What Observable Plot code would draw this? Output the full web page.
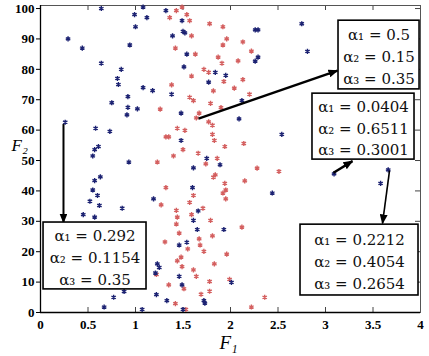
<!DOCTYPE html>
<html><head><meta charset="utf-8">
<script src="https://cdn.jsdelivr.net/npm/d3@7"></script>
<script src="https://cdn.jsdelivr.net/npm/@observablehq/plot@0.6"></script>
<style>body{margin:0;background:#fff;}</style>
</head><body><div id="chart"></div>
<script>
// ---- data ----
const blueX = [0.64,0.99,1.08,1.12,1.00,0.29,0.44,0.94,0.64,0.85,0.81,0.82,1.08,1.18,0.92,0.75,0.92,1.02,0.91,0.26,0.58,0.73,0.61,0.57,0.55,
  0.93,1.61,0.63,0.57,0.55,0.60,0.52,0.62,0.86,0.45,0.57,1.19,1.23,1.25,1.21,0.88,0.77,1.22,0.67,1.07,
  1.32,1.49,2.29,2.26,1.52,1.50,1.39,1.54,2.29,2.26,1.51,1.84,1.95,1.77,1.38,2.12,1.48,2.09,1.48,1.75,
  1.89,2.44,1.60,1.66,1.61,1.65,1.93,1.54,1.46,1.46,2.01,1.49,1.33,1.72,1.73,1.50,
  2.75,2.81,2.54,3.09,3.66,3.58];
const blueY = [100,98,100.5,97,94,90,87,88,82,80,77,75,74,73,71,69,67.5,67,65,62.6,60.6,59.6,54.6,53.6,51.5,
  49.5,47.6,44.6,43.4,40.3,38.5,36.6,35.2,34.3,32.2,31.4,37.4,16.0,14.8,13.0,6.9,5.0,5.9,1.8,1.0,
  99.3,96,93,93,92,92.5,91,85,84,82.7,80.8,79,78,75.8,71.8,69.7,65.6,63.7,56.6,50.7,
  48.6,39.3,41.1,33.4,30.3,27.3,27.3,23.1,22.2,11.9,9.9,9.1,3.9,3.9,3.1,1.0,
  95,85.9,58.6,45.6,46.9,42.5];
const redX = [1.36,1.43,1.49,1.54,1.57,1.78,1.92,1.59,1.96,1.92,2.13,1.42,1.63,2.22,1.87,2.08,1.91,1.72,1.77,1.59,1.93,2.13,1.38,1.82,2.04,2.20,1.57,1.61,1.79,1.26,1.90,1.67,1.64,1.77,1.81,1.44,1.52,1.81,1.32,1.35,1.83,1.50,1.94,2.14,1.40,1.66,1.86,
  1.23,1.74,2.28,1.84,1.82,2.15,1.94,1.95,1.92,1.95,1.32,1.61,1.57,1.27,1.71,1.43,1.59,1.44,1.43,1.79,2.12,1.46,1.81,1.31,1.67,1.68,1.55,1.72,1.96,1.48,1.44,1.83,1.49,1.61,1.64,1.99,1.78,1.35,1.51,1.78,1.69,2.36,1.42,2.22,1.53,1.22,2.51];
const redY = [97,99.3,100.5,98,96,95,94,91,90,88,89,87,85,86,84,82.8,82,80,79,77.8,76,76.6,74.9,72.9,73.8,71.8,70.8,69.7,68.8,66.9,67.4,65.6,64,62.7,61.6,60.6,59.9,58.6,57.8,57.8,56.6,53.6,54.6,55.6,51.5,52.4,50.7,
  49.5,48.9,47.5,45.3,44.5,43.3,42.5,40.3,39.3,37.4,41.1,38.5,36.2,35.4,34.3,33.6,32.2,31.4,29.1,30.3,28.1,26.1,25.2,23.2,24.2,22.2,20.9,20.1,19.2,18.2,17.0,16.0,15.1,14.0,11.9,10.9,10.2,9.1,7.8,7.0,6.0,5.0,2.9,1.8,1.0,12.5,46.4];

const xTicks = [0,0.5,1,1.5,2,2.5,3,3.5,4];
const xTickLabels = ["0","0.5","1","1.5","2","2.5","3","3.5","4"];
const yTicks = [0,10,20,30,40,50,60,70,80,90,100];
const yTickLabels = ["0","10","20","30","40","50","60","70","80","90","100"];

const annotationText = [
  ["α₁ = 0.5","α₂ = 0.15","α₃ = 0.35"],
  ["α₁ = 0.0404","α₂ = 0.6511","α₃ = 0.3001"],
  ["α₁ = 0.292","α₂ = 0.1154","α₃ = 0.35"],
  ["α₁ = 0.2212","α₂ = 0.4054","α₃ = 0.2654"]
];
const xLabel = "F₁";
const yLabel = "F₂";

// ---- layout of annotations (in chart units) ----
const boxes = [
  {x1: 3.137, x2: 3.99, y1: 73.4, y2: 96.0},
  {x1: 2.863, x2: 3.937, y1: 50.3, y2: 72.0},
  {x1: 0.032, x2: 1.116, y1: 7.6, y2: 29.6},
  {x1: 2.737, x2: 3.979, y1: 5.6, y2: 28.9}
].map((b, i) => ({...b, text: annotationText[i].join("\n")}));
const arrows = [
  {x1: 1.663, y1: 63.8, x2: 3.126, y2: 79.6, w: 2.4},
  {x1: 3.084, y1: 46.0, x2: 3.284, y2: 49.8, w: 2.4},
  {x1: 0.242, y1: 62.0, x2: 0.242, y2: 29.6, w: 2},
  {x1: 3.674, y1: 46.7, x2: 3.600, y2: 29.3, w: 1.6}
];

const blue = blueX.map((x, i) => ({x, y: blueY[i]}));
const red = redX.map((x, i) => ({x, y: redY[i]}));

const W = 429, H = 356, mL = 40, mR = 9, mT = 5, mB = 44;
const plotW = W - mL - mR, plotH = H - mT - mB;

const node = Plot.plot({
  width: W, height: H,
  marginLeft: mL, marginRight: mR, marginTop: mT, marginBottom: mB,
  x: {domain: [0, 4]},
  y: {domain: [0, 101]},
  style: {fontFamily: "'Liberation Serif', 'Times New Roman', serif", fontSize: "13px", fontWeight: "bold", color: "#000", background: "#fff"},
  marks: [
    Plot.axisX({ticks: xTicks, tickFormat: d => xTickLabels[xTicks.indexOf(d)], tickSize: 0, tickPadding: 7, label: null}),
    Plot.axisY({ticks: yTicks, tickFormat: d => yTickLabels[yTicks.indexOf(d)], tickSize: 4, tickPadding: 2, label: null, stroke: "#000"}),
    Plot.ruleX(xTicks, {insetTop: plotH - 5, stroke: "#444"}),
    Plot.ruleX(xTicks, {insetBottom: plotH - 5, stroke: "#444"}),
    Plot.ruleY(yTicks, {insetLeft: plotW - 5, stroke: "#444"}),
    Plot.frame({stroke: "#555"}),
    Plot.ruleX([0], {stroke: "#000", strokeWidth: 1.3}),
    Plot.ruleY([0], {stroke: "#000", strokeWidth: 1.3}),
    Plot.dot(red, {x: "x", y: "y", symbol: "asterisk", r: 2.4, stroke: "#d45f5f", strokeWidth: 1.4}),
    Plot.dot(blue, {x: "x", y: "y", symbol: "asterisk", r: 2.4, stroke: "#1c2272", strokeWidth: 1.4}),
    Plot.link(arrows, {x1: "x1", y1: "y1", x2: "x2", y2: "y2", stroke: "#000", strokeWidth: d => d.w}),
    Plot.rect(boxes, {x1: "x1", x2: "x2", y1: "y1", y2: "y2", fill: "#fff", stroke: "#000", strokeWidth: 1.6}),
    Plot.text(boxes, {x: d => (d.x1 + d.x2) / 2, y: d => (d.y1 + d.y2) / 2, text: "text",
      fontFamily: "'DejaVu Serif', serif", fontSize: 15, fontWeight: "normal", lineHeight: 1.45, fill: "#111"}),
    Plot.text([xLabel], {x: 1.98, frameAnchor: "bottom", dy: 36, fontSize: 19, fontStyle: "italic", fontWeight: "normal"}),
    Plot.text([yLabel], {y: 55, frameAnchor: "left", dx: -29, fontSize: 17, fontStyle: "italic", fontWeight: "normal"})
  ]
});

const svg = d3.select(node);
svg.append("defs").append("marker")
  .attr("id", "ahead").attr("markerUnits", "userSpaceOnUse")
  .attr("viewBox", "0 0 10 8").attr("markerWidth", 10).attr("markerHeight", 8)
  .attr("refX", 9).attr("refY", 4).attr("orient", "auto")
  .append("path").attr("d", "M0,0L10,4L0,8Z").attr("fill", "#000");
svg.selectAll('g[aria-label="link"] path').attr("marker-end", "url(#ahead)");

document.getElementById("chart").appendChild(node);
</script>
</body></html>
